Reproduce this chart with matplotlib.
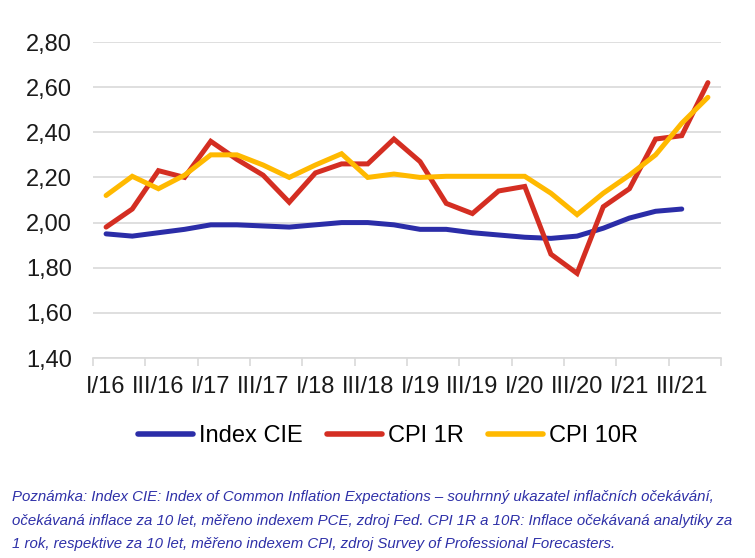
import matplotlib
matplotlib.use("Agg")
import matplotlib.pyplot as plt
import numpy as np

plt.rcParams['font.family'] = ['Liberation Sans', 'DejaVu Sans']

quarters = ["I/16", "II/16", "III/16", "IV/16", "I/17", "II/17", "III/17", "IV/17",
            "I/18", "II/18", "III/18", "IV/18", "I/19", "II/19", "III/19", "IV/19",
            "I/20", "II/20", "III/20", "IV/20", "I/21", "II/21", "III/21", "IV/21"]
index_cie = [1.95, 1.94, 1.955, 1.97, 1.99, 1.99, 1.985, 1.98, 1.99, 2.00, 2.00, 1.99,
             1.97, 1.97, 1.955, 1.945, 1.935, 1.93, 1.94, 1.975, 2.02, 2.05, 2.06]
cpi_1r = [1.98, 2.06, 2.23, 2.20, 2.36, 2.28, 2.21, 2.09, 2.22, 2.26, 2.26, 2.37,
          2.27, 2.085, 2.04, 2.14, 2.16, 1.86, 1.775, 2.07, 2.15, 2.37, 2.385, 2.62]
cpi_10r = [2.12, 2.205, 2.15, 2.21, 2.30, 2.30, 2.255, 2.20, 2.255, 2.305, 2.20, 2.215,
           2.20, 2.205, 2.205, 2.205, 2.205, 2.13, 2.035, 2.13, 2.21, 2.30, 2.44, 2.555]
series_names = ["Index CIE", "CPI 1R", "CPI 10R"]
y_ticks = [1.40, 1.60, 1.80, 2.00, 2.20, 2.40, 2.60, 2.80]
note = ("Poznámka: Index CIE: Index of Common Inflation Expectations – souhrnný ukazatel inflačních očekávání,\n"
        "očekávaná inflace za 10 let, měřeno indexem PCE, zdroj Fed. CPI 1R a 10R: Inflace očekávaná analytiky za\n"
        "1 rok, respektive za 10 let, měřeno indexem CPI, zdroj Survey of Professional Forecasters.")

colors = ["#2B2DA8", "#D42E22", "#FFB900"]

fig = plt.figure(figsize=(7.55, 5.58), dpi=100)
ax = fig.add_axes([93/755, 1-358/558, (721-93)/755, (358-42)/558])

x_all = np.arange(len(quarters))
lines = []
for vals, name, c in zip([index_cie, cpi_1r, cpi_10r], series_names, colors):
    ln, = ax.plot(x_all[:len(vals)], vals, color=c, lw=3.6, label=name,
                  solid_joinstyle='miter', solid_capstyle='round')
    lines.append(ln)

ax.set_xlim(-0.5, len(quarters) - 0.5)
ax.set_ylim(1.40, 2.80)
ax.set_yticks(y_ticks)
ax.set_yticklabels([f"{v:.2f}".replace('.', ',') for v in y_ticks], fontsize=17, color='#1a1a1a')
ax.tick_params(axis='y', length=0, pad=15)
ax.grid(axis='y', color='#D9D9D9', lw=1.2)
ax.set_axisbelow(True)

ax.set_xticks(x_all[::2])
ax.set_xticklabels(quarters[::2], fontsize=17, color='#1a1a1a')
ax.set_xticks(np.arange(-0.5, len(quarters), 2), minor=True)
ax.tick_params(axis='x', which='major', length=0, pad=13)
ax.tick_params(axis='x', which='minor', length=6, color='#D9D9D9', width=1.2)

for s in ['top', 'right', 'left']:
    ax.spines[s].set_visible(False)
ax.spines['bottom'].set_color('#D9D9D9')
ax.spines['bottom'].set_linewidth(1.2)

fig.legend(handles=lines, loc='center', bbox_to_anchor=(388/755, 1-436/558), ncol=3,
           frameon=False, fontsize=17, handlelength=2.35, handletextpad=0.25,
           columnspacing=1.0)
for lh in fig.legends[0].get_lines():
    lh.set_linewidth(4)

fig.text(12/755, 1-490/558, note, fontsize=10.8, style='italic', color='#2E30A8',
         va='top', ha='left', linespacing=1.88)

fig.savefig("out.png", dpi=100)
